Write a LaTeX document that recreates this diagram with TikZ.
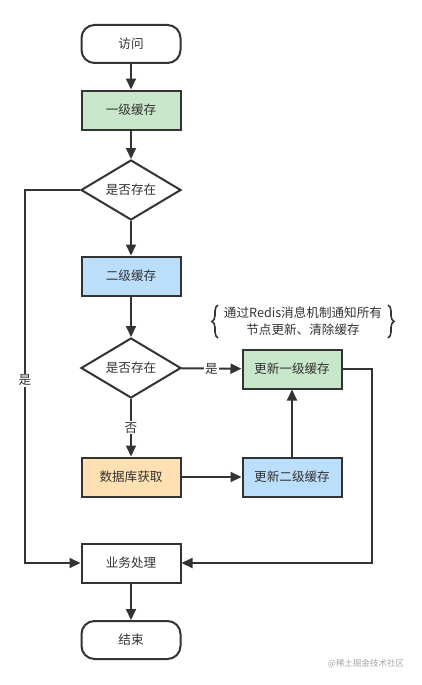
\documentclass[tikz,border=0pt]{standalone}
\usepackage{fontspec}
\setmainfont{Noto Sans CJK SC}
\usetikzlibrary{arrows.meta,shapes.geometric,decorations.pathreplacing}
\definecolor{linec}{HTML}{333333}
\definecolor{greenf}{HTML}{C8E6C9}
\definecolor{bluef}{HTML}{BBDEFB}
\definecolor{orangef}{HTML}{FFE0B2}
\definecolor{txtc}{HTML}{333333}
\begin{document}
\begin{tikzpicture}[x=1pt,y=-1pt,
  font=\fontsize{12.6}{15}\selectfont, text=txtc,
  base/.style={draw=linec, line width=2pt, minimum width=99pt, minimum height=39pt, inner sep=0pt},
  boxg/.style={base, fill=greenf},
  boxb/.style={base, fill=bluef},
  boxo/.style={base, fill=orangef},
  boxw/.style={base, fill=white},
  term/.style={base, rounded corners=13pt, minimum height=38pt},
  dec/.style={draw=linec, line width=2pt, diamond, aspect=1.666, minimum width=100pt, minimum height=60pt, inner sep=0pt, fill=white},
  conn/.style={draw=linec, line width=2pt, -{Triangle[length=11pt,width=10pt]}},
  lbl/.style={fill=white, inner sep=1pt}
]
\useasboundingbox (0,0) rectangle (421,685);
\node[term] (visit) at (131,44) {访问};
\node[boxg] (l1) at (131,110) {一级缓存};
\node[dec] (d1) at (131,190) {是否存在};
\node[boxb] (l2) at (131,276) {二级缓存};
\node[dec] (d2) at (131,368) {是否存在};
\node[boxo] (db) at (131,477) {数据库获取};
\node[boxb] (u2) at (292,477) {更新二级缓存};
\node[boxg] (u1) at (292,369) {更新一级缓存};
\node[boxw] (biz) at (131,563) {业务处理};
\node[term] (end) at (131,640) {结束};

\node[align=center, font=\fontsize{12.6}{17}\selectfont] (note) at (303,321) {通过Redis消息机制通知所有\\节点更新、清除缓存};
\draw[linec, line width=1.6pt, decorate, decoration={brace, amplitude=6pt}] (218,338) -- (218,305);
\draw[linec, line width=1.6pt, decorate, decoration={brace, amplitude=6pt}] (388,305) -- (388,338);

\coordinate (lt) at (25,190);
\coordinate (lb) at (25,563);
\coordinate (rt) at (372,369);
\coordinate (rb) at (372,563);

\draw[conn] (visit) -- (l1);
\draw[conn] (l1) -- (d1);
\draw[conn] (d1) -- (l2);
\draw[conn] (l2) -- (d2);
\draw[conn] (d2) -- node[lbl, pos=0.5] {否} (db);
\draw[conn] (d2) -- node[lbl, pos=0.5] {是} (u1);
\draw[conn] (db) -- (u2);
\draw[conn] (u2) -- (u1);
\draw[conn] (d1.west) -- (lt) -- node[lbl, pos=0.51] {是} (lb) -- (biz.west);
\draw[conn] (u1.east) -- (rt) -- (rb) -- (biz.east);
\draw[conn] (biz) -- (end);

\node[text=black!35, font=\fontsize{8.5}{10}\selectfont] (wm) at (366,664) {@稀土掘金技术社区};
\end{tikzpicture}
\end{document}
